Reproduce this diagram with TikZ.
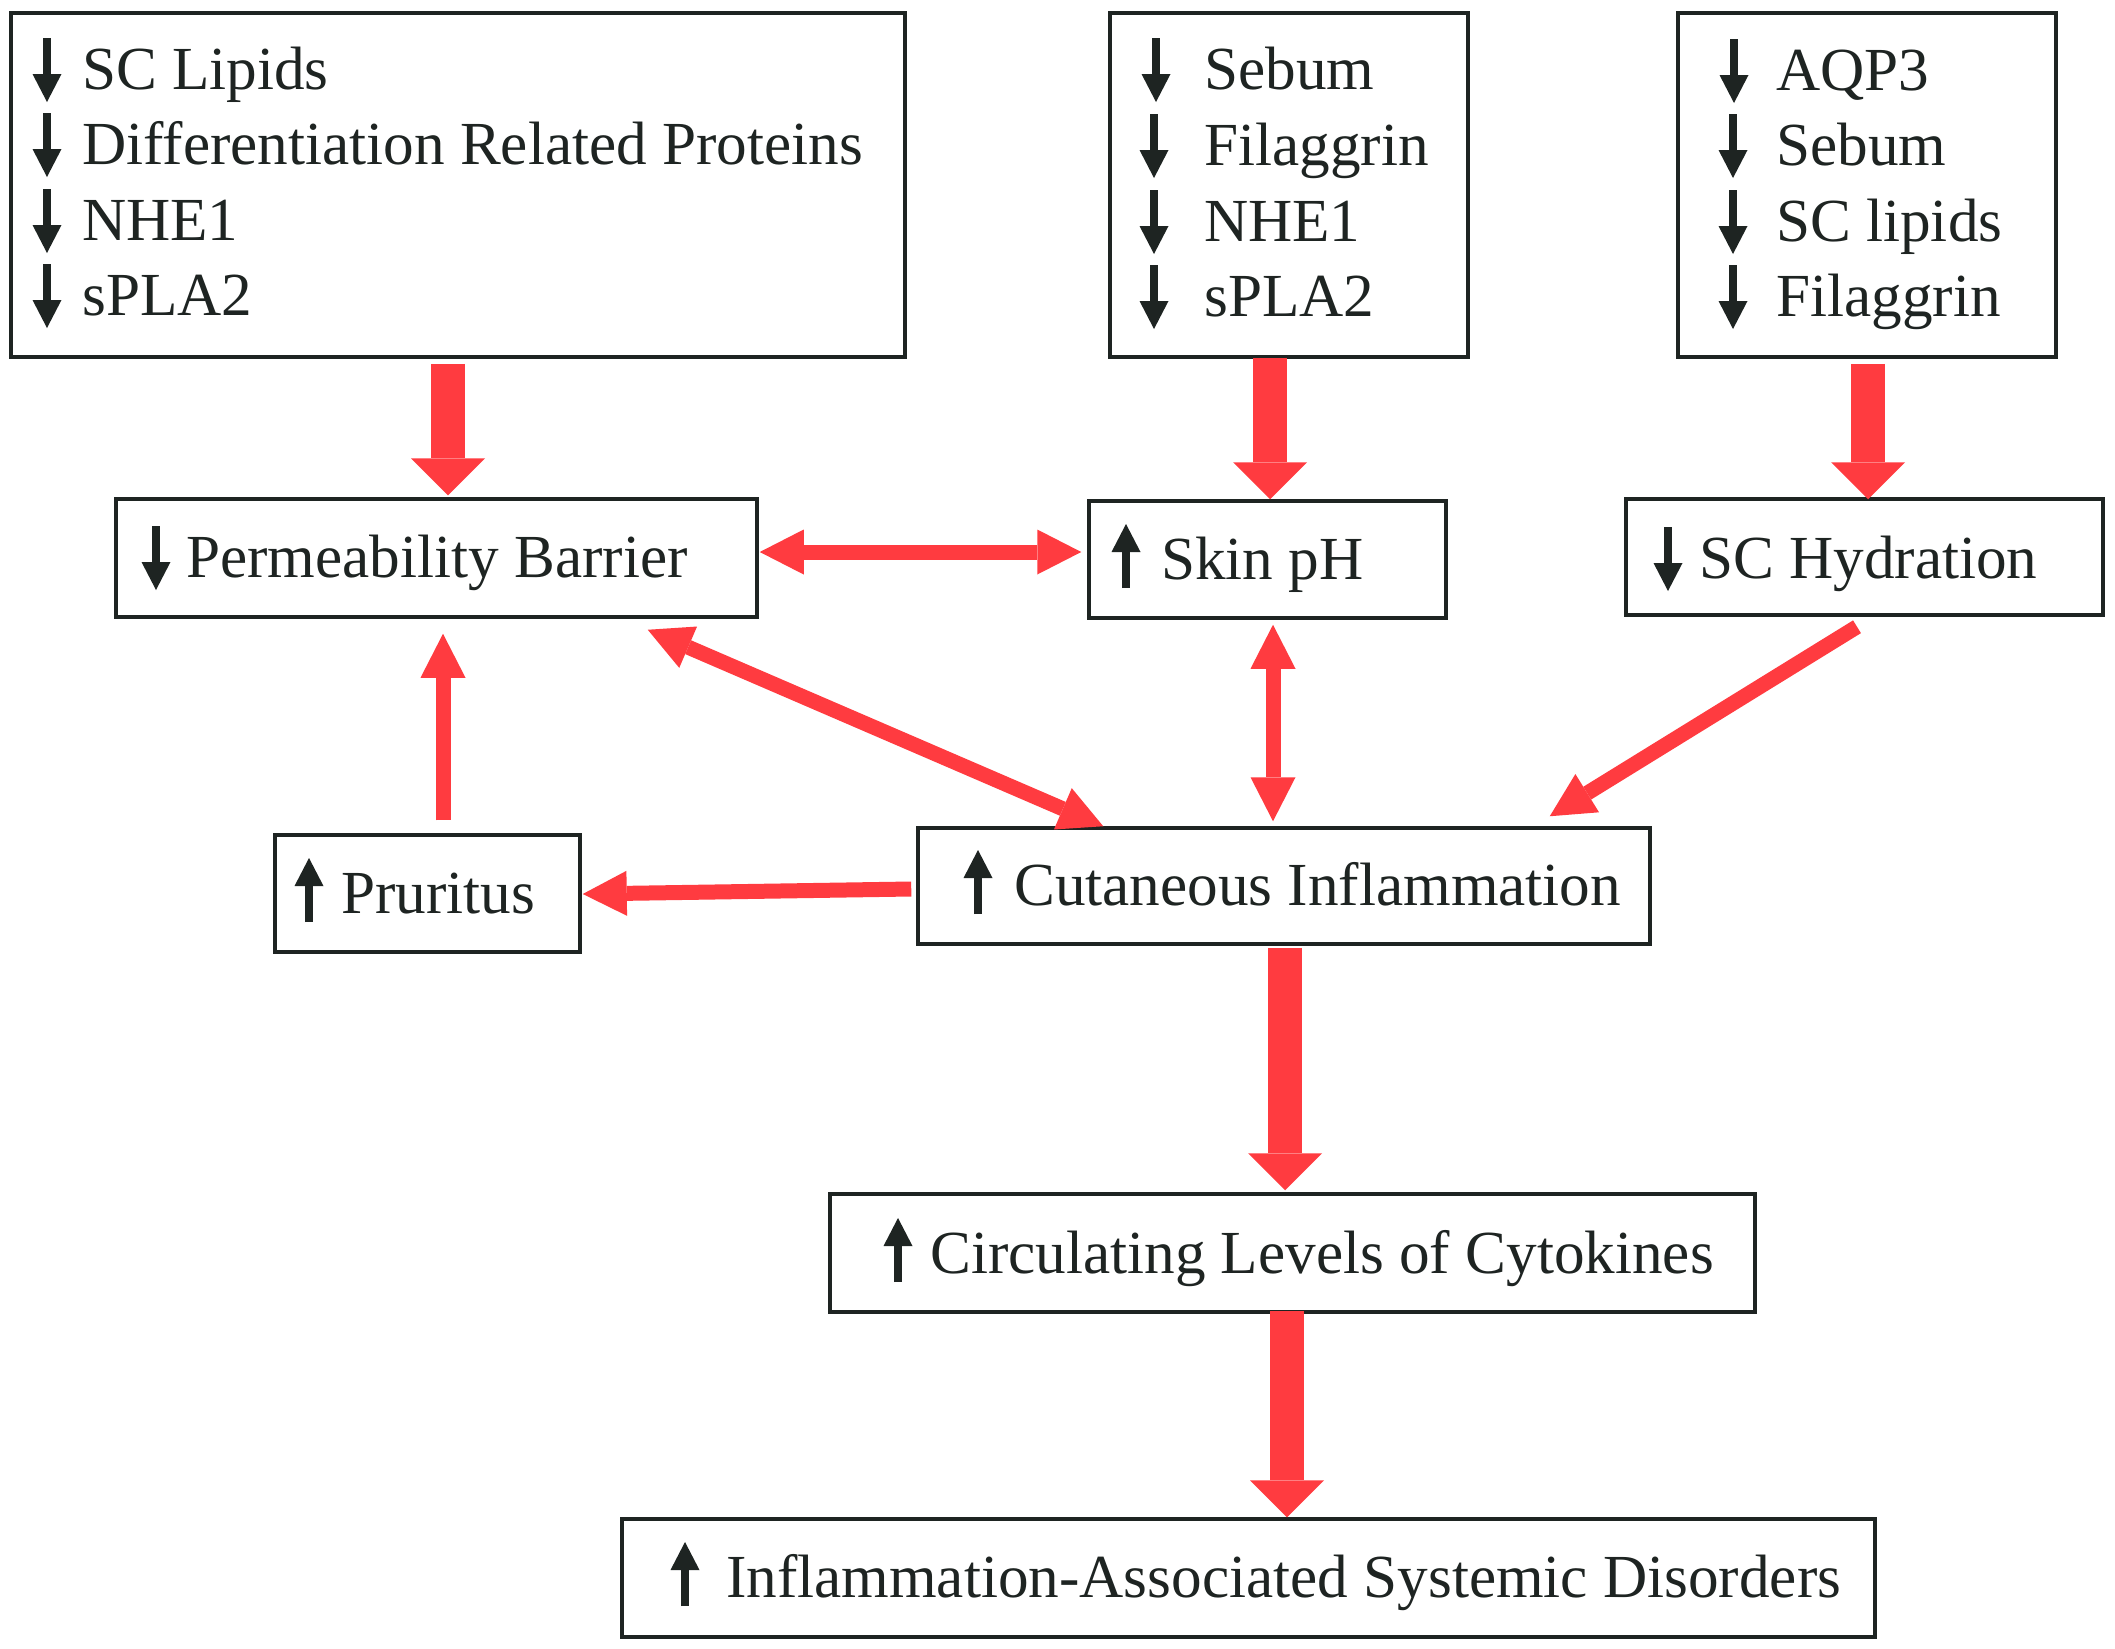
\documentclass[tikz,border=0pt]{standalone}
\usepackage{fontspec}
\setmainfont{Liberation Serif}
\usetikzlibrary{arrows.meta}
\definecolor{myred}{RGB}{255,59,64}
\definecolor{ink}{RGB}{30,36,34}
\newcommand\dnar[2]{\draw[ink, line width=8pt, -{Triangle[width=29pt,length=28pt,line width=0pt]}] (#1,#2-51) -- (#1,#2+13);}
\newcommand\upar[2]{\draw[ink, line width=8pt, -{Triangle[width=29pt,length=28pt,line width=0pt]}] (#1,#2+9) -- (#1,#2-55);}
\begin{document}
\begin{tikzpicture}[x=1pt,y=-1pt,
  box/.style n args={2}{draw=ink, line width=3.5pt, minimum width=#1, minimum height=#2, inner sep=0pt},
  txt/.style={anchor=base west, inner sep=0pt, text=ink, font=\fontsize{61.2}{72}\selectfont},
  bigarrow/.style={draw=myred, line width=34pt, -{Triangle[width=74pt,length=37pt,line width=0pt]}},
  thinarrow/.style={draw=myred, line width=15pt, -{Triangle[width=45pt,length=44pt,line width=0pt]}},
  dblarrow/.style={draw=myred, line width=15pt, {Triangle[width=45pt,length=44pt,line width=0pt]}-{Triangle[width=45pt,length=44pt,line width=0pt]}}
]
\fill[white] (0,0) rectangle (2115,1649);
\useasboundingbox (0,0) rectangle (2115,1649);

% boxes
\node[box={894pt}{344pt}] (A) at (458,185) {};
\node[box={358pt}{344pt}] (B) at (1289,185) {};
\node[box={378pt}{344pt}] (C) at (1867,185) {};
\node[box={641pt}{118pt}] (PB) at (436.5,558) {};
\node[box={357pt}{117pt}] (PH) at (1267.5,559.5) {};
\node[box={477pt}{116pt}] (SCH) at (1864.5,557) {};
\node[box={305pt}{117pt}] (PR) at (427.5,893.5) {};
\node[box={732pt}{116pt}] (CI) at (1284,886) {};
\node[box={925pt}{118pt}] (CLC) at (1292.5,1253) {};
\node[box={1253pt}{118pt}] (IASD) at (1248.5,1578) {};

% texts box A
\node[txt] (a1) at (82,89) {SC Lipids};
\node[txt] (a2) at (82,164) {Differentiation Related Proteins};
\node[txt] (a3) at (82,240) {NHE1};
\node[txt] (a4) at (82,315) {sPLA2};
\dnar{47}{89}\dnar{47}{164}\dnar{47}{240}\dnar{47}{315}
% box B
\node[txt] (b1) at (1204,89) {Sebum};
\node[txt] (b2) at (1204,165) {Filaggrin};
\node[txt] (b3) at (1204,241) {NHE1};
\node[txt] (b4) at (1204,316) {sPLA2};
\dnar{1156}{89}\dnar{1154}{165}\dnar{1154}{241}\dnar{1154}{316}
% box C
\node[txt] (c1) at (1776,90) {AQP3};
\node[txt] (c2) at (1776,165) {Sebum};
\node[txt] (c3) at (1776,241) {SC lipids};
\node[txt] (c4) at (1776,316) {Filaggrin};
\dnar{1734}{90}\dnar{1733}{165}\dnar{1733}{241}\dnar{1733}{316}
% single-line boxes
\node[txt] (tPB) at (186,577) {Permeability Barrier}; \dnar{156}{577}
\node[txt] (tPH) at (1161,579) {Skin pH}; \upar{1126}{579}
\node[txt] (tSCH) at (1699,578) {SC Hydration}; \dnar{1668}{578}
\node[txt] (tPR) at (341,913) {Pruritus}; \upar{309}{913}
\node[txt] (tCI) at (1014,905) {Cutaneous Inflammation}; \upar{978}{905}
\node[txt] (tCLC) at (930,1273) {Circulating Levels of Cytokines}; \upar{898}{1273}
\node[txt] (tIASD) at (726,1597) {Inflammation-Associated Systemic Disorders}; \upar{685}{1597}

% connectors
\draw[bigarrow] ([xshift=-10pt,yshift=-5pt]A.south) -- ([xshift=11.5pt,yshift=2pt]PB.north);
\draw[bigarrow] ([xshift=-19pt,yshift=1pt]B.south) -- ([xshift=2.5pt]PH.north);
\draw[bigarrow] ([xshift=1pt,yshift=-5pt]C.south) -- ([xshift=3.5pt,yshift=-2pt]SCH.north);
\draw[dblarrow] ([xshift=1pt,yshift=6pt]PB.east) -- ([xshift=-6pt,yshift=7.5pt]PH.west);
\draw[dblarrow] ([xshift=-111pt,yshift=-11pt]PB.south east) -- ([xshift=187pt]CI.north west);
\draw[dblarrow] ([xshift=5.5pt,yshift=-5pt]PH.south) -- ([xshift=-11pt,yshift=5pt]CI.north);
\draw[thinarrow] ([xshift=-7.5pt,yshift=-10pt]SCH.south) -- ([xshift=-102pt,yshift=10pt]CI.north east);
\draw[thinarrow] ([xshift=15.5pt,yshift=13pt]PR.north) -- ([xshift=6.5pt,yshift=-15pt]PB.south);
\draw[thinarrow] ([xshift=-5pt,yshift=-3pt]CI.west) -- ([xshift=1pt,yshift=-0.5pt]PR.east);
\draw[bigarrow] ([xshift=1pt,yshift=-2pt]CI.south) -- ([xshift=-7.5pt,yshift=2pt]CLC.north);
\draw[bigarrow] ([xshift=-5.5pt,yshift=3pt]CLC.south) -- ([xshift=38.5pt]IASD.north);
\end{tikzpicture}
\end{document}
